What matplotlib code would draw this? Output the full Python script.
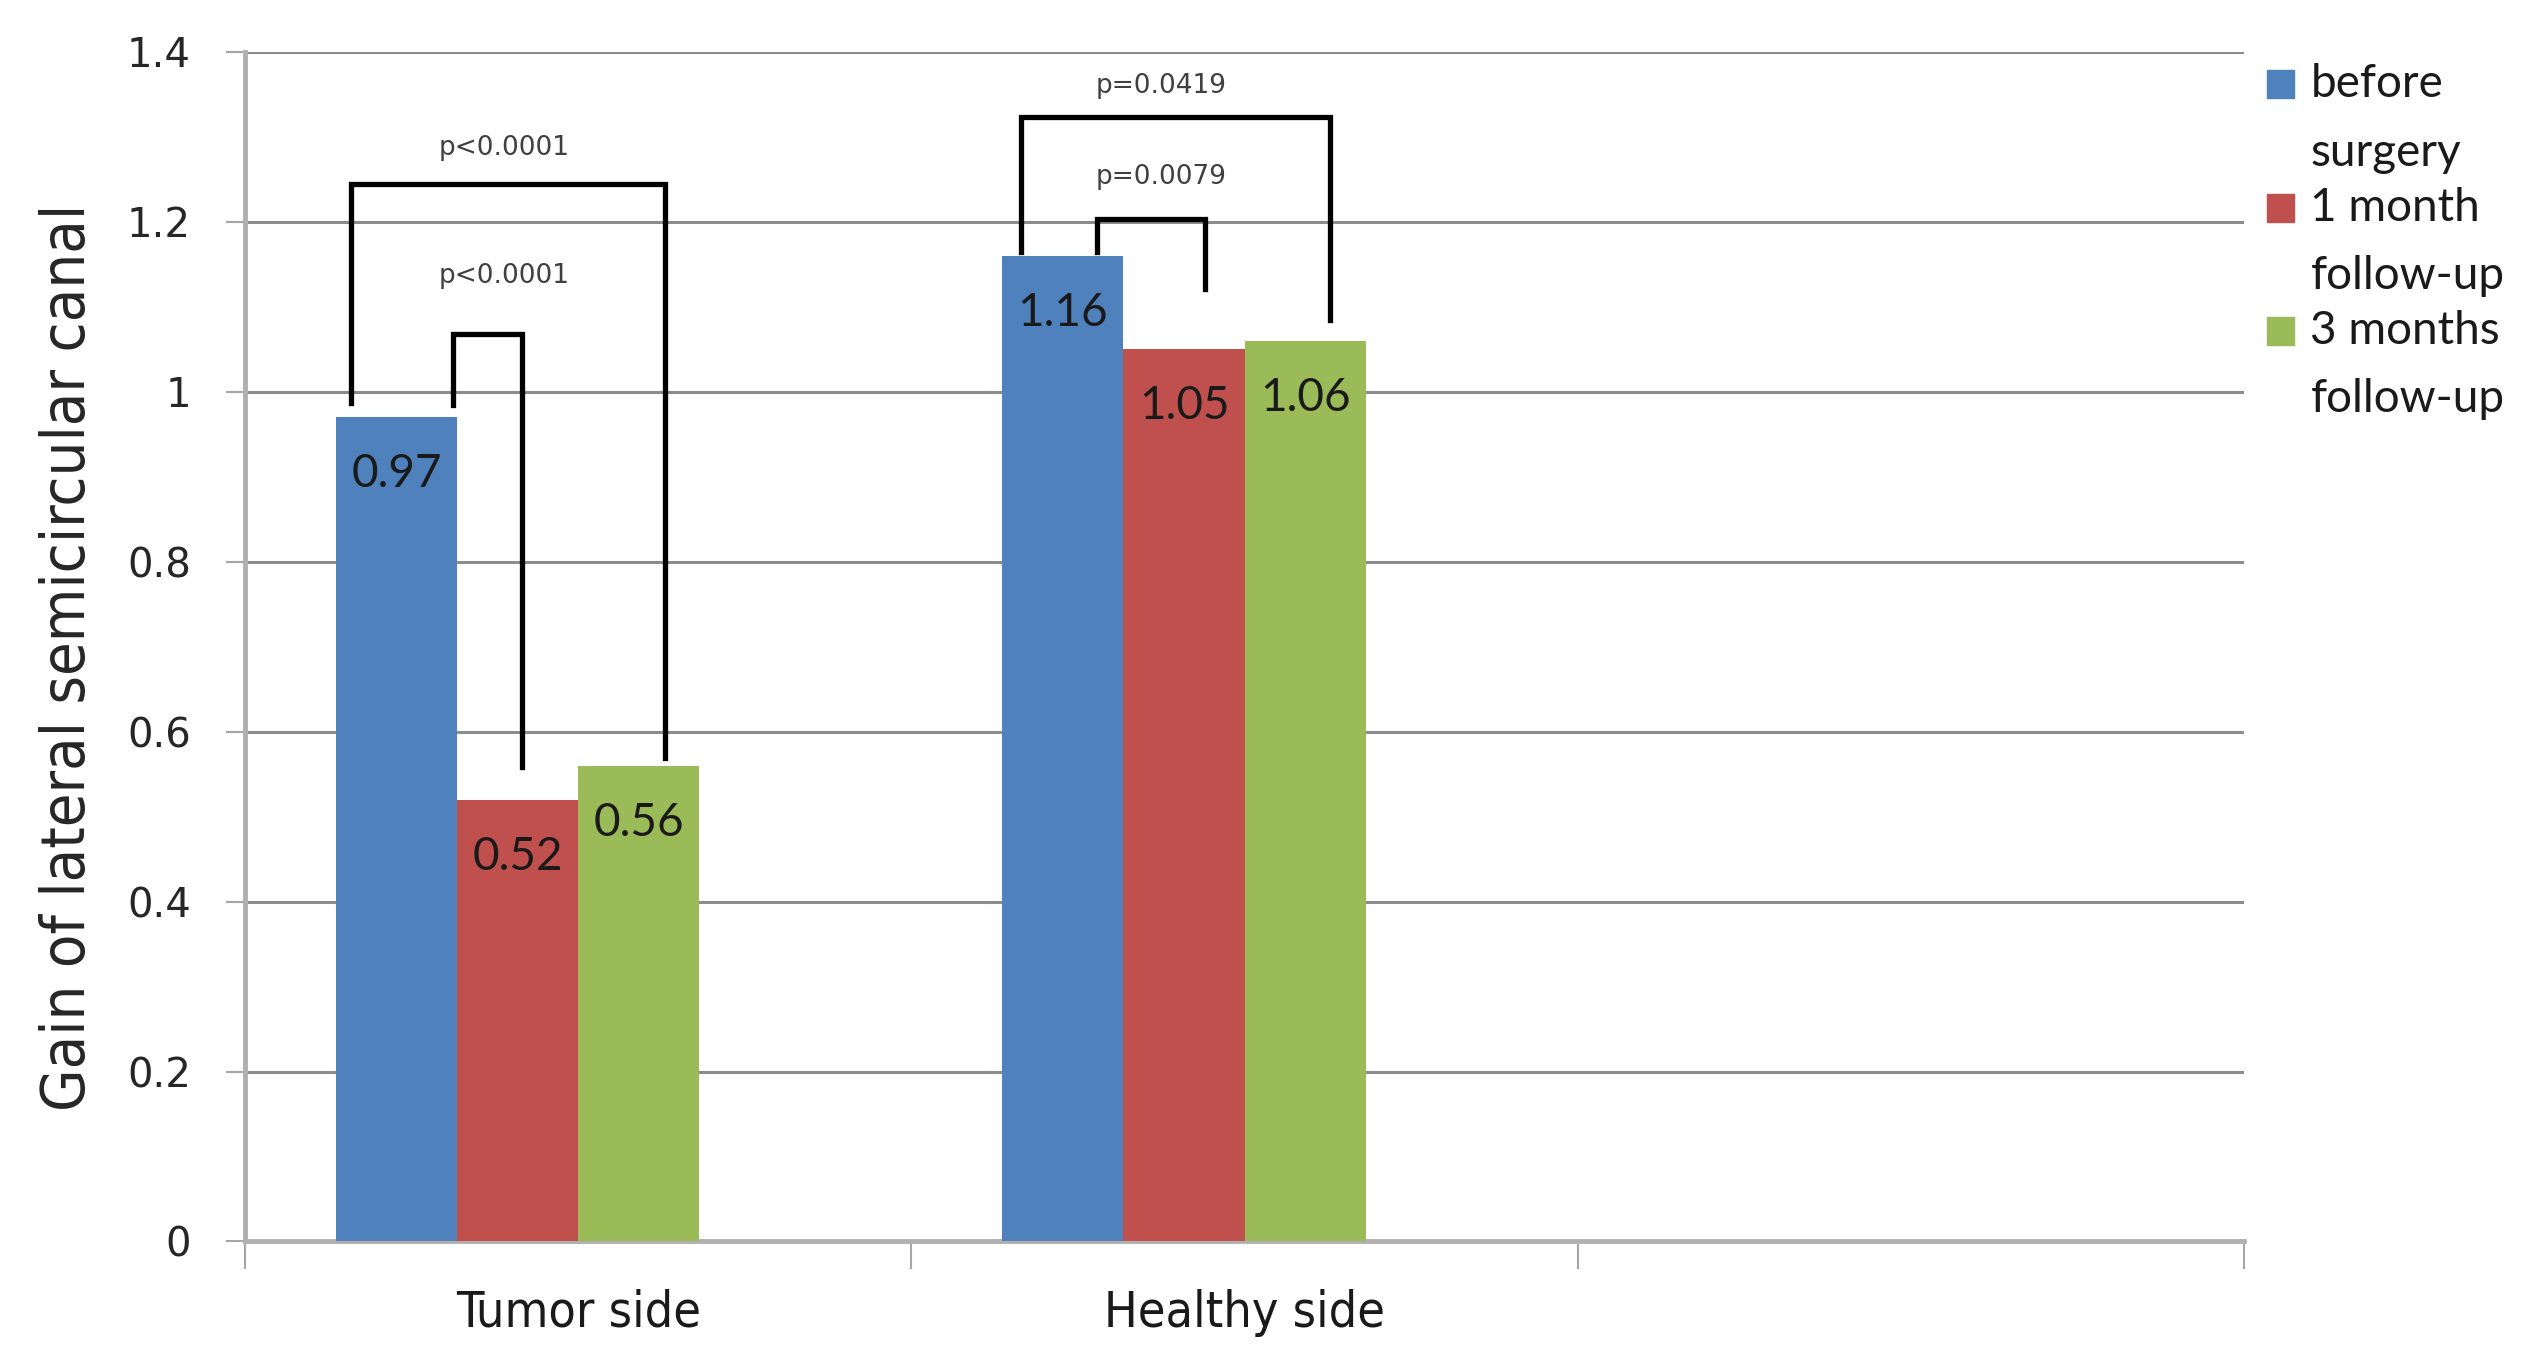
import matplotlib.pyplot as plt
from matplotlib.patches import Rectangle

CATEGORIES = ['Tumor side', 'Healthy side', '']
SERIES = ['before\nsurgery', '1 month\nfollow-up', '3 months\nfollow-up']
COLORS = ['#4f81bd', '#c0504d', '#9bbb59']
BEFORE = [0.97, 1.16]
MONTH1 = [0.52, 1.05]
MONTH3 = [0.56, 1.06]
VALUES = [BEFORE, MONTH1, MONTH3]
YTICKS = [0, 0.2, 0.4, 0.6, 0.8, 1, 1.2, 1.4]
YTICK_LABELS = ['0', '0.2', '0.4', '0.6', '0.8', '1', '1.2', '1.4']

# significance brackets: group, left bar, right bar, left offset, right offset,
# left bottom, top, right bottom, label, label height
BRACKETS = [
    (0, 0, 2, -0.068, 0.039, 0.987, 1.245, 0.569, 'p<0.0001', 1.287),
    (0, 0, 1, 0.085, 0.007, 0.984, 1.068, 0.558, 'p<0.0001', 1.136),
    (1, 0, 2, -0.063, 0.037, 1.165, 1.323, 1.085, 'p=0.0419', 1.360),
    (1, 0, 1, 0.051, 0.032, 1.165, 1.203, 1.121, 'p=0.0079', 1.253),
]
LABEL_X = [-0.112, 0.875]

LEGEND_FONT = ['Lato', 'DejaVu Sans']

W = 1 / 5.5  # 4 slots per category, gap 150%


def bar_x(group, series):
    return group + (series - 1.5) * W


def main():
    fig = plt.figure(figsize=(25.46, 13.68), dpi=100)
    ax = fig.add_axes([0.0963, 0.0925, 0.7851, 0.8695])

    for j, vals in enumerate(VALUES):
        xs = [bar_x(i, j) for i in range(len(vals))]
        ax.bar(xs, vals, width=W, color=COLORS[j], zorder=3)
        for x, v in zip(xs, vals):
            ax.text(x, v - 0.067, '{:.2f}'.format(v), ha='center', va='center',
                    fontsize=33, color='#1a1a1a', family=LEGEND_FONT, zorder=4)

    for g, a, b, lo, ro, lb, top, rb, label, ly in BRACKETS:
        x0 = bar_x(g, a) + lo
        x1 = bar_x(g, b) + ro
        ax.plot([x0, x0, x1, x1], [lb, top, top, rb], color='black', lw=3.8,
                solid_joinstyle='miter', zorder=5)
        ax.text(LABEL_X[g], ly, label, ha='center', va='center', fontsize=19,
                color='#404040', zorder=5)

    ax.set_xlim(-0.5, 2.5)
    ax.set_ylim(0, 1.4)
    ax.set_yticks(YTICKS)
    ax.set_yticklabels(YTICK_LABELS)
    ax.yaxis.grid(True, color='#8c8c8c', lw=2.2, zorder=0)
    ax.set_axisbelow(True)

    ax.set_xticks([-0.5, 0.5, 1.5, 2.5])
    ax.set_xticklabels([])
    ax.set_xticks(range(len(CATEGORIES)), minor=True)
    ax.set_xticklabels(CATEGORIES, minor=True, fontsize=36, fontstretch='condensed',
                       color='#1a1a1a')
    ax.tick_params(axis='x', which='minor', length=0, pad=34)
    ax.tick_params(axis='x', which='major', length=20, width=1.5, color='#a6a6a6', direction='out')
    ax.tick_params(axis='y', length=14, width=1.5, color='#a6a6a6', labelsize=29,
                   labelcolor='#262626', pad=25)

    for s in ['top', 'right']:
        ax.spines[s].set_visible(False)
    for s in ['left', 'bottom']:
        ax.spines[s].set_color('#b0b0b0')
        ax.spines[s].set_linewidth(3.5)

    fig.text(0.0268, 0.5196, 'Gain of lateral semicircular canal', rotation=90,
             ha='center', va='center', fontsize=44, fontstretch='condensed', color='#262626')

    # legend drawn by hand so the swatch sits on the first line
    ys = [0.9383, 0.8482, 0.758]
    for y, label, c in zip(ys, SERIES, COLORS):
        fig.patches.append(Rectangle((0.8903, y - 0.0102), 0.0108, 0.0204,
                                     transform=fig.transFigure, color=c))
        for k, line in enumerate(label.split('\n')):
            fig.text(0.9075, y - k * 0.0498, line, ha='left', va='center',
                     fontsize=33, family=LEGEND_FONT, color='#1a1a1a')

    plt.savefig('out.png', dpi=100)


if __name__ == '__main__':
    main()
